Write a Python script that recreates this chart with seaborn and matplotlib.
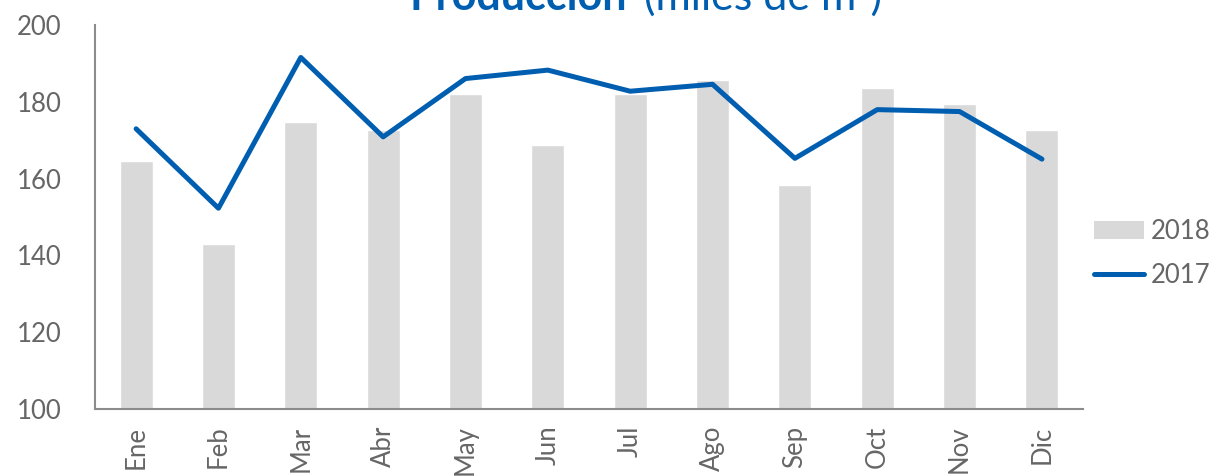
import matplotlib
matplotlib.use('Agg')
import matplotlib.pyplot as plt
import seaborn as sns
import pandas as pd
import numpy as np
from matplotlib.patches import Patch
from matplotlib.lines import Line2D

# datos
meses = ['Ene', 'Feb', 'Mar', 'Abr', 'May', 'Jun', 'Jul', 'Ago', 'Sep', 'Oct', 'Nov', 'Dic']
prod_2018 = [164.7, 143.0, 174.7, 172.8, 182.2, 168.7, 182.0, 185.6, 158.3, 183.6, 179.4, 172.6]
prod_2017 = [173.0, 152.3, 191.6, 170.9, 186.1, 188.3, 182.8, 184.6, 165.3, 178.0, 177.5, 165.1]
y_ticks = [100, 120, 140, 160, 180, 200]

GRIS_BARRA = '#D9D9D9'
AZUL = '#005EB0'
GRIS_TEXTO = '#666666'
GRIS_EJE = '#8C8C8C'

sns.set_theme(style='white')
plt.rcParams['font.family'] = ['Lato', 'DejaVu Sans']

df = pd.DataFrame({'mes': meses, '2018': prod_2018, '2017': prod_2017})

fig = plt.figure(figsize=(12.17, 4.76), dpi=100)
ax = fig.add_axes([0.078, 0.141, 0.812, 0.806])

sns.barplot(data=df, x='mes', y='2018', color=GRIS_BARRA, width=0.4,
            saturation=1, ax=ax)
sns.pointplot(data=df, x='mes', y='2017', color=AZUL, markers='',
              linewidth=3.6, errorbar=None, ax=ax)

ax.set_ylim(100, 200)
ax.set_xlim(-0.5, len(meses) - 0.5)
ax.set_yticks(y_ticks)
ax.set_xticks(range(len(meses)))
ax.set_xticklabels(meses, rotation=90, fontsize=18.5, color=GRIS_TEXTO)
ax.set_yticklabels([str(t) for t in y_ticks], fontsize=18.5, color=GRIS_TEXTO)
ax.set_xlabel('')
ax.set_ylabel('')

# marcas del eje x entre categorias
ax.set_xticks(np.arange(-0.5, len(meses), 1.0), minor=True)
ax.tick_params(axis='x', which='major', length=0, pad=12)
ax.tick_params(axis='x', which='minor', length=7, width=1.5, color=GRIS_EJE, direction='out')
ax.tick_params(axis='y', which='major', length=7, width=1.5, color=GRIS_EJE, direction='out', pad=17)

for side in ['top', 'right']:
    ax.spines[side].set_visible(False)
for side in ['left', 'bottom']:
    ax.spines[side].set_color(GRIS_EJE)
    ax.spines[side].set_linewidth(1.5)

# leyenda
handles = [Patch(facecolor=GRIS_BARRA, edgecolor='none', label='2018'),
           Line2D([0], [0], color=AZUL, linewidth=3.6, solid_capstyle='round', label='2017')]
leg = fig.legend(handles=handles, loc='center left', bbox_to_anchor=(0.899, 0.468),
                 frameon=False, handlelength=1.95, handletextpad=0.25,
                 labelspacing=0.75, borderpad=0, borderaxespad=0,
                 prop={'size': 18.5})
for t in leg.get_texts():
    t.set_color(GRIS_TEXTO)

# titulo (recortado arriba como en el original)
fig.text(0.515, 0.979, 'Producción', fontsize=31, fontweight='bold', color=AZUL,
         ha='right', va='baseline')
fig.text(0.529, 0.979, '(miles de m³)', fontsize=31, color=AZUL,
         ha='left', va='baseline')

fig.savefig('out.png', dpi=100)
